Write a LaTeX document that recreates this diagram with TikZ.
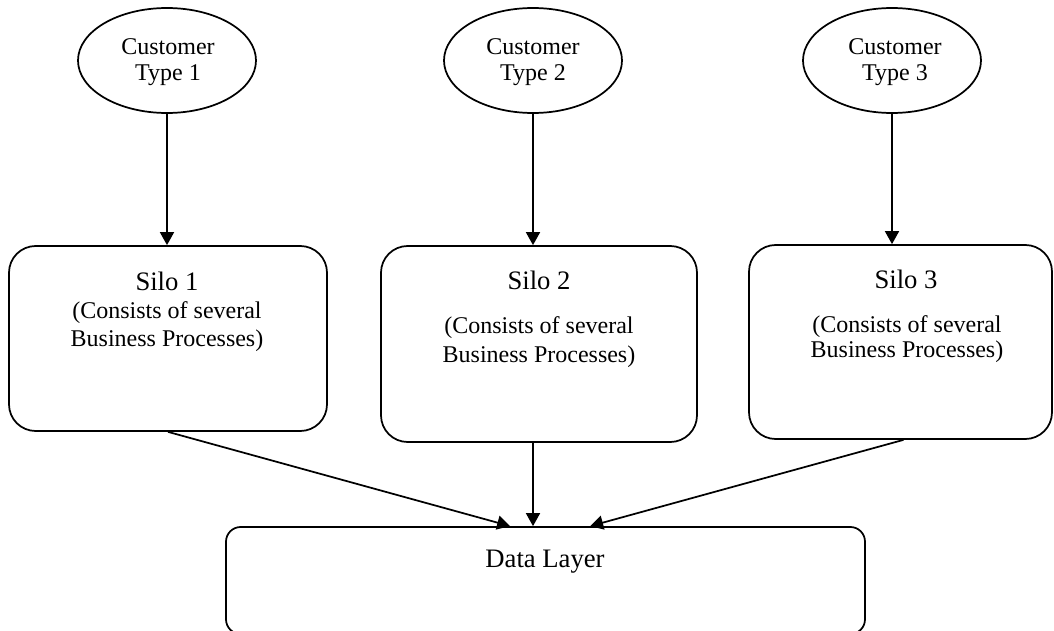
\documentclass[tikz,border=0pt]{standalone}
\usepackage{fontspec}
\setmainfont{Liberation Serif}
\usetikzlibrary{arrows.meta,calc,shapes.geometric}

\tikzset{
  line/.style={line width=1.3pt, draw=black},
  customer/.style={line, ellipse, minimum width=133.5pt, minimum height=78.75pt, inner sep=0pt},
  silobox/.style={line, rounded corners=20pt, inner sep=0pt},
  layerbox/.style={line, rounded corners=11pt, inner sep=0pt},
  small/.style={font=\fontsize{18pt}{21pt}\selectfont, anchor=base, inner sep=0pt},
  big/.style={font=\fontsize{20pt}{23pt}\selectfont, anchor=base, inner sep=0pt},
  flow/.style={line, -{Triangle[length=9.75pt,width=10.5pt]}}
}

\begin{document}
\begin{tikzpicture}[x=0.75pt,y=-0.75pt]
\useasboundingbox (0,0) rectangle (1054,631);

% customer types
\node[customer] (e1) at (167,60.5) {};
\node[customer] (e2) at (533,60.5) {};
\node[customer] (e3) at (892,60.5) {};
\node[small] (e1a) at (168,55) {Customer};
\node[small] (e1b) at (168,81) {Type 1};
\node[small] (e2a) at (533,55) {Customer};
\node[small] (e2b) at (533,81) {Type 2};
\node[small] (e3a) at (895,55) {Customer};
\node[small] (e3b) at (895,81) {Type 3};

% silos
\node[silobox, minimum width=238.5pt, minimum height=138.75pt] (s1) at (168,338.5) {};
\node[silobox, minimum width=237pt, minimum height=147pt] (s2) at (539,344) {};
\node[silobox, minimum width=227.25pt, minimum height=145.5pt] (s3) at (900.5,342) {};

\node[big]   (s1a) at (167,291) {Silo 1};
\node[small] (s1b) at (167,318) {(Consists of several};
\node[small] (s1c) at (167,346) {Business Processes)};
\node[big]   (s2a) at (539,290) {Silo 2};
\node[small] (s2b) at (539,334) {(Consists of several};
\node[small] (s2c) at (539,362) {Business Processes)};
\node[big]   (s3a) at (906,288) {Silo 3};
\node[small] (s3b) at (907,332) {(Consists of several};
\node[small] (s3c) at (907,358) {Business Processes)};

% data layer
\node[layerbox, minimum width=479.25pt, minimum height=80.25pt] (dl) at (545.5,580.5) {};
\node[big] (dla) at (545,567) {Data Layer};

% customers to silos
\draw[flow] (e1.south) -- (e1.south |- s1.north);
\draw[flow] (e2.south) -- (e2.south |- s2.north);
\draw[flow] (e3.south) -- (e3.south |- s3.north);

% silos to data layer
\draw[flow] (s1.south) -- ($(dl.north west)+(285,0)$);
\draw[flow] (e2.south |- s2.south) -- (e2.south |- dl.north);
\draw[flow] ($(s3.south)+(3,0)$) -- ($(dl.north west)+(365,0)$);
\end{tikzpicture}
\end{document}
